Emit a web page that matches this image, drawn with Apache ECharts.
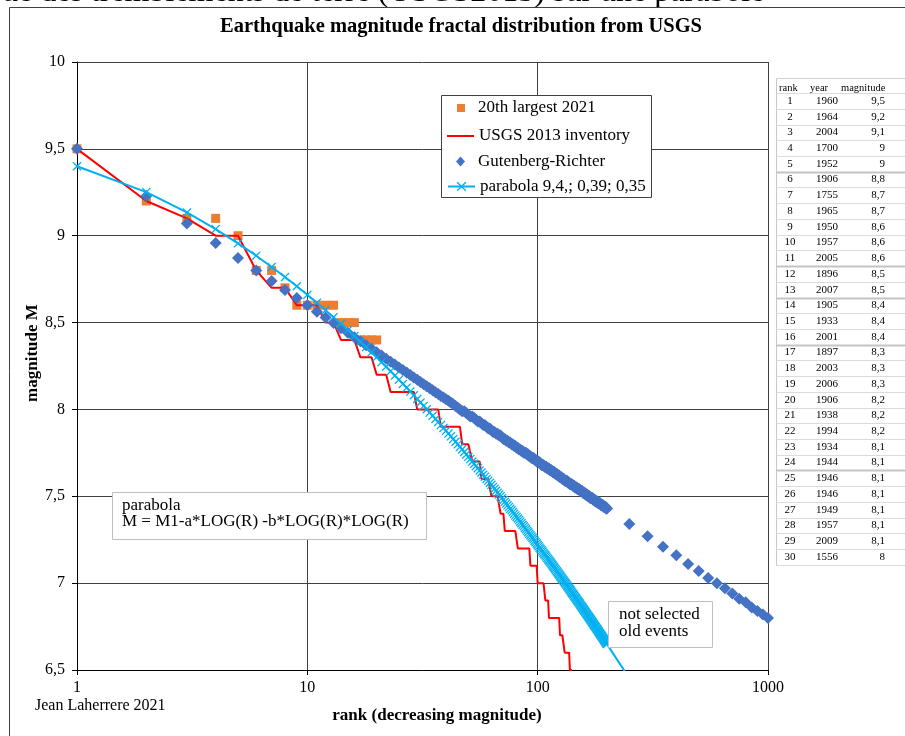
<!DOCTYPE html>
<html><head><meta charset="utf-8">
<script src="https://cdn.jsdelivr.net/npm/echarts@6/dist/echarts.min.js"></script>
<style>html,body{margin:0;padding:0;background:#fff}#c{width:905px;height:736px}</style>
</head><body><div id="c"></div><script>
// ---------- data ----------
const xTicks = [1, 10, 100, 1000];
const yMin = 6.5, yMax = 10, yStep = 0.5;

// orange squares: 20th largest 2021 (rank = index+1)
const top20Mag = [9.5,9.2,9.1,9.1,9.0,8.8,8.8,8.7,8.6,8.6,8.6,8.6,8.6,8.5,8.5,8.5,8.4,8.4,8.4,8.4];

// red line: USGS 2013 inventory (rank = index+1)
const usgsMag = [
9.5,9.2,9.1,9.0,9.0,8.8,8.7,8.7,8.6,8.6,
8.6,8.5,8.5,8.4,8.4,8.4,8.3,8.3,8.3,8.2,
8.2,8.2,8.1,8.1,8.1,8.1,8.1,8.1,8.1,8.0,
8.0,8.0,8.0,8.0,8.0,8.0,8.0,7.9,7.9,7.9,
7.9,7.9,7.9,7.9,7.9,7.9,7.8,7.8,7.8,7.8,
7.8,7.7,7.7,7.7,7.7,7.7,7.6,7.6,7.6,7.6,
7.6,7.6,7.5,7.5,7.5,7.5,7.5,7.5,7.4,7.4,
7.4,7.3,7.3,7.3,7.3,7.3,7.3,7.3,7.3,7.3,
7.3,7.2,7.2,7.2,7.2,7.2,7.2,7.2,7.2,7.2,
7.2,7.2,7.1,7.1,7.1,7.1,7.1,7.1,7.1,7.0,
7.0,7.0,7.0,7.0,7.0,7.0,7.0,6.9,6.9,6.9,
6.9,6.8,6.8,6.8,6.8,6.8,6.8,6.8,6.8,6.8,
6.8,6.8,6.8,6.8,6.7,6.7,6.7,6.7,6.7,6.7,
6.6,6.6,6.6,6.6,6.6,6.6,6.6,6.5,6.5,6.5,
6.5,6.5];

// blue diamonds: Gutenberg-Richter, ranks 1..200 (rank = index+1)
const grMag = [
9.500,9.229,9.071,8.958,8.871,8.800,8.739,8.687,8.641,8.600,
8.563,8.529,8.497,8.468,8.442,8.416,8.393,8.370,8.349,8.329,
8.310,8.292,8.274,8.258,8.242,8.227,8.212,8.198,8.184,8.171,
8.158,8.145,8.133,8.122,8.110,8.099,8.089,8.078,8.068,8.058,
8.05,8.04,8.03,8.02,8.01,8.00,7.99,7.99,7.98,7.97,
7.96,7.96,7.95,7.94,7.93,7.93,7.92,7.91,7.91,7.90,
7.89,7.89,7.88,7.87,7.87,7.86,7.86,7.85,7.85,7.84,
7.83,7.83,7.82,7.82,7.81,7.81,7.80,7.80,7.79,7.79,
7.78,7.78,7.77,7.77,7.76,7.76,7.75,7.75,7.75,7.74,
7.74,7.73,7.73,7.72,7.72,7.72,7.71,7.71,7.70,7.70,
7.70,7.69,7.69,7.68,7.68,7.68,7.67,7.67,7.67,7.66,
7.66,7.66,7.65,7.65,7.65,7.64,7.64,7.64,7.63,7.63,
7.63,7.62,7.62,7.62,7.61,7.61,7.61,7.60,7.60,7.60,
7.59,7.59,7.59,7.59,7.58,7.58,7.58,7.57,7.57,7.57,
7.57,7.56,7.56,7.56,7.55,7.55,7.55,7.55,7.54,7.54,
7.54,7.54,7.53,7.53,7.53,7.53,7.52,7.52,7.52,7.52,
7.51,7.51,7.51,7.51,7.50,7.50,7.50,7.50,7.49,7.49,
7.49,7.49,7.49,7.48,7.48,7.48,7.48,7.47,7.47,7.47,
7.47,7.47,7.46,7.46,7.46,7.46,7.46,7.45,7.45,7.45,
7.45,7.45,7.44,7.44,7.44,7.44,7.44,7.43,7.43,7.43];
// sparse G-R points beyond rank 200
const grTailRank = [250,300,350,400,450,500,550,600,650,700,750,800,850,900,950,1000];
const grTailMag  = [7.34,7.27,7.21,7.16,7.11,7.07,7.03,7.00,6.97,6.94,6.91,6.89,6.86,6.84,6.82,6.80];

// cyan line with x: parabola 9,4; 0,39; 0,35, ranks 1..200 (rank = index+1)
const parMag = [
9.400,9.251,9.134,9.038,8.956,8.885,8.820,8.762,8.709,8.660,
8.614,8.571,8.531,8.493,8.457,8.423,8.390,8.359,8.329,8.300,
8.272,8.246,8.220,8.195,8.171,8.147,8.125,8.103,8.081,8.060,
8.040,8.020,8.001,7.982,7.963,7.945,7.928,7.910,7.893,7.877,
7.861,7.845,7.830,7.814,7.799,7.784,7.770,7.755,7.741,7.727,
7.714,7.700,7.687,7.674,7.662,7.649,7.637,7.624,7.612,7.600,
7.589,7.577,7.566,7.554,7.543,7.532,7.521,7.510,7.500,7.489,
7.479,7.468,7.458,7.448,7.438,7.428,7.419,7.409,7.400,7.390,
7.381,7.372,7.363,7.354,7.345,7.336,7.327,7.318,7.310,7.301,
7.293,7.284,7.276,7.268,7.260,7.252,7.244,7.236,7.228,7.220,
7.212,7.204,7.197,7.189,7.182,7.174,7.167,7.160,7.153,7.145,
7.138,7.131,7.124,7.117,7.110,7.103,7.096,7.090,7.083,7.076,
7.069,7.063,7.056,7.050,7.043,7.037,7.030,7.024,7.018,7.011,
7.005,6.999,6.993,6.987,6.981,6.975,6.969,6.963,6.957,6.951,
6.945,6.939,6.934,6.928,6.922,6.916,6.911,6.905,6.899,6.894,
6.888,6.883,6.877,6.872,6.866,6.861,6.856,6.850,6.845,6.840,
6.835,6.829,6.824,6.819,6.814,6.809,6.804,6.799,6.794,6.789,
6.784,6.779,6.774,6.769,6.764,6.759,6.754,6.750,6.745,6.740,
6.735,6.731,6.726,6.721,6.716,6.712,6.707,6.703,6.698,6.694,
6.689,6.685,6.680,6.676,6.671,6.667,6.662,6.658,6.653,6.649];
// line continues (no marker) past the axis bottom
const parTailRank = [250];
const parTailMag  = [6.452];

// side table
const tableRank = [1,2,3,4,5,6,7,8,9,10,11,12,13,14,15,16,17,18,19,20,21,22,23,24,25,26,27,28,29,30];
const tableYear = [1960,1964,2004,1700,1952,1906,1755,1965,1950,1957,2005,1896,2007,1905,1933,2001,1897,2003,2006,1906,1938,1994,1934,1944,1946,1946,1949,1957,2009,1556];
const tableMag = [9.5,9.2,9.1,9,9,8.8,8.7,8.7,8.6,8.6,8.6,8.5,8.5,8.4,8.4,8.4,8.3,8.3,8.3,8.2,8.2,8.2,8.1,8.1,8.1,8.1,8.1,8.1,8.1,8];
const tableHeader = ['rank','year','magnitude'];

const names = ['20th largest 2021','USGS 2013 inventory','Gutenberg-Richter','parabola 9,4,; 0,39; 0,35'];

// ---------- chart ----------
const FF = '"Liberation Serif", "Times New Roman", serif';
const fmt = v => String(v).replace('.', ',');
const XPATH = 'path://M1,0 L5,4 L9,0 L10,1 L6,5 L10,9 L9,10 L5,6 L1,10 L0,9 L4,5 L0,1 Z';

function txt(x, y, text, font, align, extra) {
  return Object.assign({type:'text', x:x, y:y, silent:true,
    style:{text:text, font:font, fill:'#000', textAlign:align, align:align, textVerticalAlign:'middle', verticalAlign:'middle'}}, extra || {});
}

const graphics = [];
// document frame + cropped heading above
graphics.push({type:'text', x:2, y:-23, silent:true, style:{text:'ue des tremblements de terre (USGS2013) sur une parabole', font:'32px "Liberation Serif"', fill:'#000', textAlign:'left', align:'left', textVerticalAlign:'top', verticalAlign:'top'}});
graphics.push({type:'line', silent:true, shape:{x1:9.5,y1:7.5,x2:905,y2:7.5}, style:{stroke:'#404040', lineWidth:1}});
graphics.push({type:'line', silent:true, shape:{x1:9.5,y1:7.5,x2:9.5,y2:736}, style:{stroke:'#404040', lineWidth:1}});
// title & axis titles & credit
graphics.push(txt(461, 27, 'Earthquake magnitude fractal distribution from USGS', 'bold 20.5px "Liberation Serif"', 'center'));
graphics.push(txt(437, 716, 'rank (decreasing magnitude)', 'bold 17px "Liberation Serif"', 'center'));
graphics.push(txt(33, 353, 'magnitude M', 'bold 17px "Liberation Serif"', 'center', {rotation:Math.PI/2}));
graphics.push(txt(35, 706, 'Jean Laherrere 2021', '16px "Liberation Serif"', 'left'));
// legend box
graphics.push({type:'rect', z:10, silent:true, shape:{x:441.5,y:95.5,width:210,height:102}, style:{fill:'#fff', stroke:'#404040', lineWidth:1}});
// annotation boxes
graphics.push({type:'rect', z:10, silent:true, shape:{x:112.5,y:492.5,width:314,height:47}, style:{fill:'#fff', stroke:'#bfbfbf', lineWidth:1}});
graphics.push(txt(122, 506, 'parabola', '17px "Liberation Serif"', 'left', {z:11}));
graphics.push(txt(122, 522, 'M = M1-a*LOG(R) -b*LOG(R)*LOG(R)', '17px "Liberation Serif"', 'left', {z:11}));
graphics.push({type:'rect', z:10, silent:true, shape:{x:608.5,y:601.5,width:104,height:46}, style:{fill:'#fff', stroke:'#bfbfbf', lineWidth:1}});
graphics.push(txt(619, 615, 'not selected', '17px "Liberation Serif"', 'left', {z:11}));
graphics.push(txt(619, 632, 'old events', '17px "Liberation Serif"', 'left', {z:11}));

// side table
const tTop = 78.5, tLeft = 776.5, rowH = 15.72, row1Y = 101;
const thick = [5, 11, 13, 16, 24];
graphics.push({type:'line', silent:true, shape:{x1:tLeft,y1:tTop,x2:905,y2:tTop}, style:{stroke:'#d0d0d0', lineWidth:1}});
graphics.push({type:'line', silent:true, shape:{x1:tLeft,y1:tTop,x2:tLeft,y2:566}, style:{stroke:'#c8c8c8', lineWidth:1}});
for (let k = 0; k <= tableRank.length; k++) {
  const y = Math.round(row1Y + (k - 0.5) * rowH) + 0.5;
  const th = thick.indexOf(k) >= 0;
  graphics.push({type:'line', silent:true, shape:{x1:tLeft,y1:y,x2:905,y2:y}, style:{stroke: th ? '#c4c4c4' : '#dcdcdc', lineWidth: th ? 2 : 1}});
}
const tFont = '11px "Liberation Serif"';
[[779, 'left'], [810, 'left'], [841, 'left']].forEach((c, i) => {
  graphics.push(txt(c[0], 88, tableHeader[i], '10.5px "Liberation Serif"', c[1]));
});
tableRank.forEach((r, i) => {
  const y = row1Y + i * rowH;
  graphics.push(txt(790, y, String(r), tFont, 'center'));
  graphics.push(txt(838, y, String(tableYear[i]), tFont, 'right'));
  graphics.push(txt(885, y, fmt(tableMag[i]), tFont, 'right'));
});

const legendBase = {orient:'vertical', padding:0, itemGap:0, selectedMode:false, z:20,
  textStyle:{fontFamily:FF, fontSize:17, color:'#000'}};

const grData = grMag.map((m, i) => [i + 1, m]).concat(grTailRank.map((r, i) => [r, grTailMag[i]]));
const parData = parMag.map((m, i) => [i + 1, m]).concat(parTailRank.map((r, i) => ({value:[r, parTailMag[i]], symbol:'none'})));

const chart = echarts.init(document.getElementById('c'), null, {renderer:'canvas'});
chart.setOption({
  animation:false,
  backgroundColor:'#fff',
  grid:{left:77, right:137, top:62, bottom:66, outerBoundsMode:'none', containLabel:false},
  xAxis:{type:'log', logBase:10, min:xTicks[0], max:xTicks[xTicks.length-1],
    axisLine:{show:true, lineStyle:{color:'#000', width:1}},
    axisTick:{show:true, length:5, inside:false, lineStyle:{color:'#000'}},
    minorTick:{show:false}, minorSplitLine:{show:false},
    axisLabel:{show:true, margin:10, color:'#000', fontFamily:FF, fontSize:16, formatter:v=>String(v)},
    splitLine:{show:true, lineStyle:{color:'#404040', width:1}}},
  yAxis:{type:'value', min:yMin, max:yMax, interval:yStep,
    axisLine:{show:true, lineStyle:{color:'#000', width:1}},
    axisTick:{show:true, length:5, inside:false, lineStyle:{color:'#000'}},
    axisLabel:{show:true, margin:12, color:'#000', fontFamily:FF, fontSize:16, formatter:v=>fmt(v)},
    splitLine:{show:true, lineStyle:{color:'#404040', width:1}}},
  legend:[
    Object.assign({}, legendBase, {left:457, top:99.5, itemWidth:8, itemHeight:8, data:[{name:names[0], icon:'rect'}], textStyle:Object.assign({}, legendBase.textStyle, {padding:[0,0,0,8]})}),
    Object.assign({}, legendBase, {left:447, top:127.5, itemWidth:27, itemHeight:2, data:[{name:names[1], icon:'rect', itemStyle:{color:'#FF0000'}}]}),
    Object.assign({}, legendBase, {left:456, top:153, itemWidth:9, itemHeight:10, data:[{name:names[2], icon:'diamond'}], textStyle:Object.assign({}, legendBase.textStyle, {padding:[0,0,0,8]})}),
    Object.assign({}, legendBase, {left:447, top:178, itemWidth:27, itemHeight:12, data:[{name:names[3]}]})
  ],
  graphic:graphics,
  series:[
    {name:names[0], type:'scatter', symbol:'rect', symbolSize:9, z:2,
      itemStyle:{color:'#ED7D31', opacity:1},
      data: top20Mag.map((m, i) => [i + 1, m])},
    {name:names[1], type:'line', symbol:'none', z:3, clip:true,
      lineStyle:{color:'#FF0000', width:2}, itemStyle:{color:'#FF0000'},
      data: usgsMag.map((m, i) => [i + 1, m])},
    {name:names[2], type:'scatter', symbol:'diamond', symbolSize:12, z:4,
      itemStyle:{color:'#4472C4', opacity:1},
      data: grData},
    {name:names[3], type:'line', symbol:XPATH, symbolSize:9, showSymbol:true, showAllSymbol:true, z:5, clip:true,
      lineStyle:{color:'#00B0F0', width:2}, itemStyle:{color:'#00B0F0'},
      data: parData}
  ]
});
</script></body></html>
